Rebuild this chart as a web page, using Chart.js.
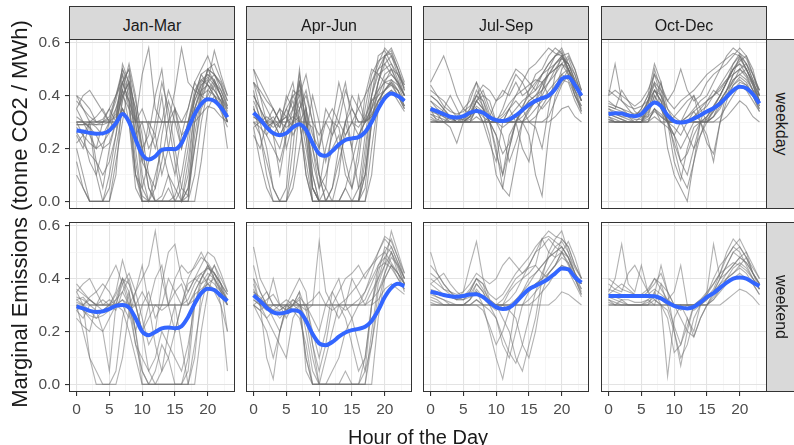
<!DOCTYPE html>
<html>
<head>
<meta charset="utf-8">
<script src="https://cdn.jsdelivr.net/npm/chart.js@4.4.1/dist/chart.umd.min.js"></script>
<style>
  html, body { margin:0; padding:0; background:#fff; }
  body { width:794px; height:445px; overflow:hidden; position:relative; font-family:"Liberation Sans", Arial, sans-serif; }
  canvas { position:absolute; }
  .strip { position:absolute; box-sizing:border-box; background:#D9D9D9; border:1px solid #333; color:#1a1a1a; font-size:16px; text-align:center; line-height:37px; }
  .rstrip { position:absolute; box-sizing:border-box; background:#D9D9D9; border:1px solid #333; }
  .rtext { position:absolute; color:#1a1a1a; font-size:16px; text-align:center; transform:rotate(90deg); white-space:nowrap; }
  .title { position:absolute; color:#1a1a1a; white-space:nowrap; text-align:center; }
</style>
</head>
<body>
<script>
// ---------- data ----------
const hours = [0,1,2,3,4,5,6,7,8,9,10,11,12,13,14,15,16,17,18,19,20,21,22,23];
const seasons = ['Jan-Mar','Apr-Jun','Jul-Sep','Oct-Dec'];
const dayTypes = ['weekday','weekend'];
const xTickValues = [0,2.5,5,7.5,10,12.5,15,17.5,20,22.5];
const xTickLabels = ['0','','5','','10','','15','','20',''];
const yTickValues = [0,0.1,0.2,0.3,0.4,0.5,0.6];
const yTickLabels = ['0.0','','0.2','','0.4','','0.6'];

// smoothed (blue) curves
const smoothWeekdayJanMar = [0.268,0.264,0.259,0.256,0.257,0.268,0.295,0.330,0.300,0.235,0.178,0.158,0.170,0.195,0.198,0.197,0.220,0.275,0.330,0.368,0.386,0.380,0.355,0.318];
const smoothWeekdayAprJun = [0.335,0.310,0.280,0.258,0.250,0.258,0.280,0.292,0.270,0.220,0.180,0.172,0.190,0.215,0.232,0.238,0.243,0.262,0.300,0.350,0.390,0.408,0.398,0.380];
const smoothWeekdayJulSep = [0.350,0.340,0.330,0.320,0.317,0.322,0.335,0.342,0.335,0.318,0.307,0.304,0.310,0.325,0.345,0.365,0.380,0.390,0.400,0.425,0.463,0.470,0.440,0.400];
const smoothWeekdayOctDec = [0.330,0.333,0.332,0.325,0.322,0.330,0.355,0.374,0.360,0.325,0.303,0.298,0.302,0.313,0.326,0.340,0.352,0.370,0.395,0.420,0.433,0.428,0.405,0.370];
const smoothWeekendJanMar = [0.295,0.287,0.278,0.274,0.276,0.285,0.297,0.300,0.290,0.250,0.200,0.186,0.198,0.212,0.215,0.212,0.220,0.255,0.305,0.345,0.362,0.357,0.335,0.315];
const smoothWeekendAprJun = [0.337,0.315,0.290,0.272,0.268,0.272,0.280,0.275,0.240,0.190,0.155,0.148,0.160,0.180,0.196,0.205,0.210,0.218,0.240,0.280,0.330,0.365,0.380,0.372];
const smoothWeekendJulSep = [0.350,0.345,0.338,0.333,0.331,0.334,0.340,0.341,0.330,0.310,0.292,0.285,0.290,0.310,0.337,0.360,0.373,0.385,0.400,0.420,0.438,0.435,0.405,0.385];
const smoothWeekendOctDec = [0.334,0.334,0.334,0.334,0.334,0.334,0.334,0.333,0.325,0.310,0.297,0.290,0.287,0.293,0.310,0.330,0.345,0.365,0.385,0.400,0.404,0.400,0.385,0.372];

// daily (grey) profiles
const dailyWeekdayJanMar = [
 [0.30,0.30,0.30,0.30,0.30,0.31,0.38,0.50,0.42,0.30,0.30,0.30,0.30,0.30,0.30,0.30,0.30,0.30,0.38,0.45,0.48,0.46,0.40,0.35],
 [0.28,0.25,0.22,0.20,0.22,0.26,0.35,0.45,0.38,0.10,0.00,0.00,0.00,0.00,0.00,0.02,0.10,0.25,0.38,0.44,0.46,0.42,0.38,0.32],
 [0.20,0.10,0.00,0.00,0.00,0.05,0.20,0.35,0.30,0.05,0.00,0.00,0.05,0.15,0.30,0.35,0.20,0.30,0.40,0.48,0.50,0.45,0.40,0.30],
 [0.40,0.38,0.35,0.30,0.30,0.30,0.32,0.42,0.52,0.40,0.20,0.05,0.00,0.00,0.05,0.00,0.00,0.10,0.35,0.42,0.50,0.48,0.45,0.38],
 [0.35,0.40,0.42,0.38,0.34,0.30,0.30,0.40,0.35,0.30,0.48,0.58,0.35,0.30,0.30,0.42,0.58,0.45,0.42,0.40,0.45,0.57,0.48,0.40],
 [0.30,0.30,0.28,0.10,0.00,0.00,0.15,0.30,0.45,0.35,0.15,0.10,0.00,0.00,0.00,0.00,0.00,0.00,0.10,0.30,0.42,0.40,0.35,0.30],
 [0.25,0.20,0.30,0.15,0.05,0.20,0.30,0.48,0.40,0.25,0.30,0.20,0.25,0.40,0.20,0.10,0.25,0.35,0.45,0.40,0.38,0.44,0.36,0.30],
 [0.30,0.30,0.30,0.30,0.30,0.30,0.30,0.35,0.30,0.30,0.30,0.30,0.30,0.30,0.30,0.30,0.30,0.30,0.30,0.33,0.36,0.35,0.32,0.30],
 [0.10,0.05,0.00,0.00,0.00,0.00,0.10,0.40,0.45,0.20,0.00,0.00,0.00,0.00,0.00,0.00,0.00,0.05,0.20,0.35,0.40,0.45,0.42,0.35],
 [0.38,0.35,0.32,0.30,0.31,0.35,0.40,0.45,0.50,0.38,0.25,0.10,0.05,0.25,0.38,0.30,0.20,0.30,0.42,0.46,0.44,0.42,0.38,0.20],
 [0.30,0.25,0.15,0.10,0.20,0.30,0.35,0.42,0.30,0.10,0.05,0.15,0.30,0.45,0.35,0.20,0.05,0.02,0.30,0.40,0.50,0.48,0.44,0.38],
 [0.29,0.29,0.29,0.29,0.30,0.32,0.40,0.50,0.45,0.35,0.20,0.05,0.00,0.00,0.00,0.00,0.00,0.00,0.00,0.15,0.35,0.40,0.38,0.30],
 [0.32,0.30,0.28,0.25,0.20,0.22,0.30,0.52,0.45,0.30,0.10,0.00,0.00,0.00,0.00,0.00,0.05,0.20,0.40,0.46,0.48,0.45,0.40,0.34],
 [0.26,0.22,0.18,0.15,0.10,0.15,0.25,0.38,0.48,0.32,0.20,0.25,0.40,0.50,0.30,0.15,0.00,0.05,0.30,0.42,0.50,0.52,0.46,0.40],
 [0.30,0.30,0.30,0.29,0.29,0.30,0.33,0.45,0.38,0.15,0.00,0.00,0.00,0.02,0.10,0.05,0.00,0.15,0.35,0.44,0.47,0.44,0.40,0.33],
 [0.15,0.05,0.00,0.00,0.00,0.10,0.25,0.45,0.50,0.30,0.05,0.00,0.10,0.20,0.10,0.00,0.00,0.00,0.25,0.40,0.42,0.46,0.40,0.30],
 [0.40,0.35,0.30,0.32,0.35,0.30,0.28,0.35,0.30,0.30,0.35,0.28,0.20,0.30,0.42,0.35,0.30,0.35,0.45,0.50,0.55,0.48,0.42,0.36],
 [0.29,0.29,0.30,0.30,0.30,0.30,0.30,0.42,0.38,0.30,0.30,0.30,0.30,0.30,0.30,0.30,0.30,0.30,0.35,0.42,0.44,0.40,0.36,0.32],
 [0.22,0.25,0.30,0.28,0.25,0.30,0.40,0.48,0.35,0.10,0.02,0.00,0.00,0.00,0.00,0.00,0.00,0.02,0.20,0.38,0.45,0.48,0.44,0.36],
 [0.35,0.30,0.25,0.20,0.30,0.35,0.30,0.40,0.45,0.25,0.15,0.30,0.25,0.10,0.20,0.35,0.25,0.28,0.40,0.48,0.44,0.40,0.34,0.28]
];
const dailyWeekdayAprJun = [
 [0.45,0.35,0.30,0.25,0.20,0.30,0.40,0.35,0.20,0.05,0.00,0.00,0.00,0.00,0.05,0.00,0.00,0.15,0.40,0.50,0.55,0.58,0.52,0.45],
 [0.35,0.30,0.28,0.25,0.30,0.38,0.45,0.30,0.10,0.00,0.00,0.00,0.00,0.00,0.00,0.00,0.00,0.05,0.30,0.42,0.48,0.50,0.45,0.40],
 [0.30,0.30,0.30,0.30,0.30,0.30,0.32,0.30,0.30,0.30,0.30,0.30,0.30,0.30,0.30,0.30,0.30,0.30,0.32,0.36,0.40,0.42,0.40,0.35],
 [0.42,0.30,0.20,0.05,0.00,0.00,0.20,0.45,0.30,0.05,0.00,0.05,0.30,0.45,0.35,0.20,0.40,0.30,0.35,0.45,0.55,0.56,0.50,0.44],
 [0.30,0.25,0.10,0.00,0.00,0.00,0.10,0.35,0.42,0.30,0.10,0.00,0.00,0.10,0.30,0.20,0.05,0.10,0.30,0.38,0.42,0.45,0.40,0.35],
 [0.50,0.40,0.35,0.30,0.25,0.30,0.35,0.40,0.48,0.35,0.20,0.30,0.25,0.35,0.45,0.30,0.25,0.30,0.45,0.52,0.58,0.55,0.50,0.42],
 [0.35,0.30,0.28,0.30,0.35,0.32,0.28,0.50,0.25,0.00,0.00,0.00,0.00,0.00,0.00,0.00,0.00,0.20,0.38,0.40,0.42,0.45,0.42,0.38],
 [0.25,0.20,0.30,0.25,0.10,0.25,0.30,0.38,0.30,0.15,0.05,0.10,0.20,0.25,0.10,0.05,0.20,0.40,0.50,0.48,0.45,0.44,0.40,0.36],
 [0.40,0.35,0.25,0.30,0.35,0.20,0.30,0.45,0.35,0.25,0.20,0.35,0.30,0.20,0.30,0.40,0.35,0.30,0.35,0.40,0.46,0.48,0.45,0.40],
 [0.32,0.30,0.30,0.28,0.30,0.35,0.30,0.32,0.10,0.00,0.00,0.00,0.05,0.20,0.30,0.35,0.30,0.30,0.33,0.38,0.40,0.42,0.38,0.34],
 [0.28,0.15,0.05,0.00,0.00,0.00,0.05,0.20,0.35,0.05,0.00,0.00,0.00,0.00,0.00,0.00,0.00,0.00,0.10,0.35,0.45,0.50,0.48,0.40],
 [0.45,0.40,0.30,0.32,0.28,0.40,0.35,0.30,0.25,0.40,0.30,0.15,0.25,0.30,0.42,0.35,0.30,0.30,0.40,0.55,0.57,0.52,0.48,0.43],
 [0.38,0.32,0.28,0.30,0.25,0.30,0.42,0.40,0.25,0.05,0.00,0.00,0.00,0.00,0.00,0.00,0.05,0.25,0.40,0.48,0.50,0.52,0.46,0.40],
 [0.30,0.28,0.25,0.20,0.15,0.25,0.35,0.45,0.30,0.20,0.10,0.05,0.00,0.00,0.00,0.00,0.00,0.10,0.35,0.45,0.55,0.57,0.50,0.42],
 [0.45,0.42,0.38,0.35,0.30,0.28,0.30,0.35,0.40,0.30,0.25,0.30,0.35,0.30,0.25,0.30,0.35,0.40,0.45,0.50,0.52,0.48,0.45,0.40],
 [0.32,0.30,0.30,0.30,0.30,0.30,0.30,0.30,0.30,0.28,0.10,0.00,0.00,0.00,0.05,0.15,0.25,0.30,0.32,0.38,0.42,0.44,0.42,0.36],
 [0.36,0.25,0.15,0.05,0.00,0.05,0.30,0.48,0.35,0.10,0.00,0.00,0.00,0.00,0.00,0.00,0.00,0.00,0.20,0.38,0.42,0.46,0.44,0.38],
 [0.40,0.35,0.30,0.35,0.30,0.32,0.25,0.30,0.35,0.20,0.05,0.20,0.30,0.28,0.15,0.05,0.15,0.35,0.48,0.53,0.55,0.50,0.44,0.40],
 [0.28,0.30,0.32,0.30,0.28,0.35,0.40,0.42,0.30,0.10,0.00,0.00,0.05,0.15,0.25,0.30,0.28,0.32,0.38,0.42,0.45,0.46,0.42,0.36],
 [0.50,0.45,0.40,0.35,0.30,0.32,0.38,0.30,0.15,0.00,0.00,0.00,0.00,0.00,0.00,0.00,0.00,0.10,0.30,0.45,0.52,0.55,0.48,0.44]
];
const dailyWeekdayJulSep = [
 [0.30,0.30,0.30,0.30,0.30,0.30,0.30,0.30,0.30,0.30,0.30,0.30,0.30,0.30,0.30,0.30,0.30,0.30,0.30,0.32,0.35,0.36,0.32,0.30],
 [0.40,0.38,0.35,0.32,0.30,0.32,0.35,0.42,0.38,0.32,0.30,0.30,0.35,0.40,0.45,0.50,0.52,0.55,0.58,0.56,0.55,0.52,0.48,0.40],
 [0.45,0.50,0.55,0.48,0.40,0.35,0.33,0.38,0.35,0.30,0.25,0.10,0.20,0.30,0.35,0.42,0.45,0.48,0.52,0.55,0.57,0.50,0.42,0.38],
 [0.32,0.30,0.30,0.30,0.30,0.31,0.40,0.45,0.35,0.30,0.20,0.05,0.02,0.15,0.30,0.35,0.38,0.40,0.45,0.48,0.52,0.55,0.50,0.42],
 [0.35,0.33,0.30,0.28,0.22,0.30,0.32,0.38,0.42,0.35,0.30,0.28,0.30,0.32,0.30,0.25,0.10,0.02,0.25,0.40,0.45,0.50,0.45,0.38],
 [0.38,0.35,0.33,0.32,0.30,0.30,0.30,0.35,0.30,0.32,0.38,0.42,0.40,0.45,0.40,0.42,0.48,0.50,0.55,0.58,0.56,0.48,0.40,0.36],
 [0.30,0.30,0.30,0.30,0.30,0.30,0.35,0.40,0.38,0.30,0.18,0.10,0.25,0.30,0.35,0.38,0.40,0.42,0.48,0.52,0.55,0.50,0.45,0.40],
 [0.42,0.40,0.38,0.35,0.32,0.35,0.38,0.45,0.40,0.33,0.30,0.30,0.32,0.35,0.38,0.40,0.42,0.45,0.48,0.50,0.54,0.52,0.46,0.42],
 [0.33,0.32,0.31,0.30,0.30,0.30,0.30,0.30,0.30,0.30,0.30,0.30,0.30,0.30,0.30,0.32,0.35,0.38,0.42,0.45,0.48,0.50,0.40,0.34],
 [0.35,0.30,0.30,0.32,0.30,0.30,0.30,0.35,0.30,0.22,0.15,0.30,0.35,0.30,0.20,0.15,0.30,0.42,0.50,0.55,0.58,0.52,0.45,0.38],
 [0.30,0.30,0.35,0.40,0.35,0.30,0.30,0.30,0.30,0.30,0.30,0.35,0.42,0.48,0.45,0.40,0.38,0.35,0.38,0.42,0.48,0.46,0.40,0.35],
 [0.36,0.34,0.32,0.30,0.30,0.30,0.32,0.38,0.40,0.38,0.30,0.25,0.15,0.22,0.30,0.34,0.38,0.45,0.40,0.42,0.50,0.54,0.48,0.40],
 [0.31,0.30,0.30,0.30,0.30,0.30,0.32,0.35,0.32,0.30,0.30,0.30,0.30,0.30,0.32,0.35,0.38,0.42,0.45,0.50,0.52,0.48,0.42,0.36],
 [0.38,0.36,0.34,0.32,0.30,0.30,0.33,0.40,0.36,0.30,0.25,0.18,0.22,0.30,0.36,0.40,0.44,0.48,0.50,0.52,0.55,0.50,0.44,0.38],
 [0.33,0.31,0.30,0.30,0.30,0.30,0.30,0.32,0.30,0.30,0.30,0.30,0.30,0.30,0.30,0.30,0.32,0.36,0.40,0.44,0.46,0.45,0.38,0.33],
 [0.44,0.40,0.36,0.34,0.33,0.34,0.36,0.40,0.44,0.42,0.38,0.40,0.45,0.50,0.48,0.45,0.42,0.48,0.52,0.55,0.56,0.50,0.44,0.40],
 [0.34,0.33,0.32,0.31,0.30,0.30,0.31,0.35,0.33,0.25,0.10,0.05,0.20,0.30,0.34,0.38,0.40,0.44,0.48,0.52,0.54,0.52,0.46,0.38],
 [0.30,0.30,0.30,0.30,0.30,0.30,0.30,0.30,0.30,0.30,0.30,0.30,0.30,0.30,0.30,0.30,0.30,0.30,0.32,0.38,0.44,0.48,0.42,0.34],
 [0.40,0.38,0.35,0.32,0.30,0.30,0.32,0.38,0.35,0.30,0.30,0.32,0.35,0.38,0.35,0.30,0.28,0.20,0.35,0.48,0.55,0.56,0.50,0.42],
 [0.35,0.34,0.33,0.32,0.31,0.31,0.33,0.36,0.34,0.32,0.31,0.33,0.37,0.40,0.42,0.44,0.46,0.45,0.48,0.50,0.52,0.50,0.45,0.40]
];
const dailyWeekdayOctDec = [
 [0.30,0.30,0.30,0.30,0.30,0.30,0.30,0.30,0.30,0.30,0.30,0.30,0.30,0.30,0.30,0.30,0.30,0.30,0.32,0.35,0.38,0.36,0.32,0.30],
 [0.40,0.52,0.38,0.35,0.32,0.35,0.40,0.52,0.45,0.35,0.30,0.30,0.32,0.35,0.38,0.40,0.45,0.50,0.55,0.58,0.56,0.52,0.48,0.42],
 [0.35,0.33,0.32,0.32,0.30,0.30,0.35,0.42,0.38,0.20,0.10,0.05,0.00,0.15,0.30,0.32,0.35,0.40,0.45,0.50,0.52,0.48,0.42,0.38],
 [0.32,0.30,0.30,0.30,0.30,0.32,0.38,0.48,0.40,0.30,0.25,0.30,0.35,0.40,0.30,0.25,0.15,0.30,0.42,0.48,0.55,0.50,0.45,0.40],
 [0.38,0.36,0.35,0.33,0.32,0.35,0.40,0.45,0.42,0.38,0.42,0.50,0.42,0.38,0.40,0.45,0.48,0.50,0.52,0.55,0.58,0.55,0.48,0.42],
 [0.30,0.30,0.30,0.30,0.30,0.30,0.32,0.40,0.35,0.30,0.15,0.08,0.20,0.28,0.30,0.30,0.32,0.38,0.42,0.45,0.50,0.52,0.46,0.38],
 [0.42,0.40,0.38,0.36,0.35,0.36,0.38,0.42,0.40,0.35,0.32,0.30,0.30,0.32,0.35,0.38,0.40,0.43,0.46,0.48,0.50,0.47,0.42,0.40],
 [0.33,0.32,0.31,0.30,0.30,0.30,0.35,0.38,0.45,0.30,0.22,0.15,0.10,0.20,0.25,0.30,0.35,0.38,0.40,0.42,0.45,0.44,0.40,0.35],
 [0.36,0.35,0.42,0.38,0.34,0.32,0.32,0.35,0.33,0.30,0.30,0.30,0.30,0.30,0.30,0.30,0.30,0.32,0.36,0.40,0.44,0.42,0.38,0.34],
 [0.30,0.30,0.30,0.30,0.30,0.30,0.30,0.35,0.30,0.30,0.30,0.30,0.25,0.20,0.30,0.38,0.42,0.40,0.45,0.52,0.55,0.50,0.44,0.36],
 [0.34,0.33,0.32,0.31,0.30,0.30,0.38,0.45,0.35,0.30,0.32,0.35,0.38,0.40,0.35,0.30,0.32,0.35,0.40,0.46,0.48,0.50,0.45,0.38],
 [0.31,0.30,0.30,0.30,0.30,0.30,0.30,0.32,0.30,0.28,0.25,0.20,0.25,0.30,0.30,0.32,0.36,0.40,0.45,0.50,0.53,0.55,0.50,0.40],
 [0.31,0.30,0.30,0.30,0.30,0.30,0.33,0.40,0.36,0.30,0.30,0.30,0.30,0.30,0.30,0.30,0.32,0.36,0.40,0.44,0.46,0.44,0.40,0.34],
 [0.36,0.35,0.34,0.33,0.32,0.33,0.38,0.44,0.40,0.32,0.20,0.10,0.05,0.15,0.25,0.32,0.36,0.40,0.45,0.50,0.54,0.50,0.45,0.40],
 [0.33,0.32,0.31,0.30,0.30,0.30,0.34,0.42,0.38,0.30,0.30,0.30,0.30,0.30,0.30,0.31,0.34,0.38,0.42,0.46,0.48,0.46,0.42,0.36],
 [0.40,0.42,0.40,0.38,0.36,0.38,0.42,0.48,0.44,0.38,0.35,0.38,0.40,0.42,0.45,0.48,0.50,0.52,0.54,0.56,0.55,0.52,0.46,0.42],
 [0.30,0.30,0.30,0.30,0.30,0.30,0.30,0.35,0.32,0.30,0.25,0.15,0.18,0.25,0.30,0.30,0.34,0.38,0.42,0.48,0.50,0.48,0.44,0.38],
 [0.35,0.34,0.33,0.32,0.31,0.31,0.36,0.50,0.42,0.32,0.30,0.30,0.30,0.32,0.34,0.36,0.40,0.44,0.48,0.52,0.56,0.54,0.48,0.40],
 [0.32,0.31,0.30,0.30,0.30,0.30,0.31,0.34,0.32,0.30,0.30,0.30,0.32,0.34,0.30,0.22,0.18,0.30,0.38,0.44,0.47,0.45,0.40,0.35],
 [0.37,0.36,0.35,0.34,0.33,0.34,0.37,0.42,0.38,0.30,0.28,0.25,0.30,0.34,0.36,0.38,0.40,0.42,0.46,0.50,0.52,0.50,0.44,0.38]
];
const dailyWeekendJanMar = [
 [0.30,0.30,0.30,0.30,0.30,0.30,0.30,0.30,0.30,0.30,0.30,0.30,0.30,0.30,0.30,0.30,0.30,0.30,0.32,0.35,0.38,0.36,0.33,0.30],
 [0.35,0.30,0.10,0.00,0.00,0.00,0.05,0.25,0.35,0.20,0.00,0.00,0.00,0.00,0.00,0.00,0.00,0.10,0.35,0.40,0.45,0.42,0.38,0.32],
 [0.38,0.35,0.32,0.30,0.35,0.40,0.45,0.38,0.30,0.35,0.40,0.45,0.58,0.40,0.30,0.35,0.38,0.30,0.35,0.40,0.45,0.40,0.35,0.30],
 [0.28,0.25,0.30,0.28,0.20,0.05,0.30,0.40,0.32,0.15,0.05,0.00,0.00,0.05,0.20,0.30,0.15,0.00,0.00,0.20,0.35,0.42,0.38,0.30],
 [0.32,0.30,0.33,0.35,0.38,0.35,0.30,0.38,0.42,0.35,0.25,0.15,0.20,0.38,0.50,0.53,0.40,0.35,0.40,0.45,0.50,0.48,0.42,0.35],
 [0.30,0.28,0.25,0.22,0.20,0.25,0.30,0.32,0.28,0.15,0.10,0.05,0.10,0.20,0.15,0.10,0.05,0.15,0.30,0.38,0.42,0.40,0.30,0.05],
 [0.25,0.22,0.20,0.30,0.32,0.30,0.28,0.35,0.40,0.30,0.20,0.30,0.40,0.45,0.30,0.20,0.30,0.38,0.40,0.42,0.38,0.35,0.30,0.20],
 [0.32,0.33,0.30,0.30,0.30,0.30,0.30,0.32,0.30,0.30,0.35,0.30,0.30,0.30,0.30,0.30,0.30,0.30,0.34,0.36,0.38,0.40,0.36,0.32],
 [0.30,0.20,0.10,0.05,0.00,0.00,0.00,0.10,0.28,0.30,0.20,0.05,0.00,0.00,0.00,0.00,0.00,0.00,0.15,0.30,0.40,0.45,0.40,0.35],
 [0.35,0.38,0.40,0.35,0.30,0.30,0.32,0.40,0.35,0.20,0.30,0.35,0.25,0.30,0.40,0.35,0.30,0.40,0.45,0.50,0.45,0.40,0.35,0.32],
 [0.30,0.28,0.26,0.25,0.26,0.28,0.32,0.35,0.30,0.20,0.05,0.00,0.00,0.00,0.00,0.00,0.00,0.05,0.30,0.40,0.44,0.42,0.36,0.32],
 [0.33,0.32,0.30,0.30,0.28,0.30,0.34,0.40,0.38,0.30,0.20,0.25,0.30,0.28,0.30,0.40,0.45,0.42,0.44,0.48,0.46,0.42,0.38,0.34],
 [0.28,0.30,0.32,0.30,0.30,0.32,0.30,0.28,0.20,0.10,0.00,0.00,0.05,0.15,0.10,0.00,0.00,0.00,0.10,0.35,0.40,0.38,0.35,0.30],
 [0.36,0.34,0.32,0.30,0.30,0.30,0.35,0.47,0.38,0.30,0.30,0.30,0.30,0.30,0.30,0.30,0.30,0.32,0.38,0.42,0.44,0.42,0.38,0.34],
 [0.31,0.30,0.28,0.25,0.28,0.30,0.30,0.30,0.25,0.35,0.45,0.30,0.15,0.05,0.10,0.20,0.30,0.35,0.40,0.38,0.40,0.45,0.38,0.20]
];
const dailyWeekendAprJun = [
 [0.52,0.40,0.35,0.30,0.30,0.30,0.30,0.30,0.30,0.30,0.30,0.30,0.30,0.30,0.30,0.30,0.30,0.30,0.32,0.35,0.40,0.45,0.42,0.38],
 [0.38,0.30,0.10,0.02,0.20,0.30,0.32,0.30,0.10,0.00,0.00,0.00,0.00,0.00,0.00,0.00,0.00,0.05,0.30,0.45,0.50,0.55,0.48,0.40],
 [0.30,0.28,0.30,0.40,0.30,0.25,0.30,0.35,0.28,0.30,0.54,0.35,0.30,0.25,0.30,0.40,0.35,0.30,0.35,0.40,0.45,0.50,0.45,0.38],
 [0.35,0.32,0.30,0.28,0.25,0.28,0.30,0.32,0.20,0.05,0.00,0.00,0.05,0.10,0.20,0.25,0.15,0.05,0.15,0.35,0.42,0.48,0.45,0.40],
 [0.40,0.30,0.25,0.20,0.15,0.10,0.25,0.30,0.28,0.15,0.00,0.00,0.00,0.00,0.05,0.00,0.00,0.00,0.20,0.38,0.45,0.58,0.50,0.42],
 [0.32,0.30,0.28,0.30,0.30,0.30,0.30,0.33,0.30,0.25,0.20,0.30,0.35,0.30,0.28,0.30,0.32,0.35,0.40,0.45,0.48,0.45,0.40,0.36],
 [0.30,0.25,0.20,0.10,0.20,0.28,0.30,0.35,0.05,0.00,0.00,0.10,0.20,0.30,0.25,0.15,0.05,0.10,0.30,0.42,0.52,0.50,0.42,0.35],
 [0.35,0.33,0.30,0.30,0.30,0.30,0.28,0.30,0.30,0.30,0.30,0.30,0.30,0.30,0.30,0.30,0.30,0.30,0.30,0.32,0.36,0.38,0.36,0.34],
 [0.45,0.35,0.30,0.25,0.20,0.30,0.28,0.25,0.15,0.00,0.00,0.00,0.00,0.00,0.00,0.00,0.00,0.00,0.00,0.25,0.40,0.45,0.42,0.38],
 [0.30,0.32,0.35,0.30,0.28,0.30,0.35,0.40,0.35,0.15,0.05,0.15,0.30,0.35,0.40,0.42,0.45,0.40,0.45,0.50,0.55,0.52,0.46,0.40],
 [0.34,0.32,0.30,0.28,0.28,0.30,0.30,0.30,0.25,0.10,0.00,0.00,0.00,0.00,0.00,0.00,0.00,0.10,0.30,0.40,0.48,0.52,0.46,0.40],
 [0.36,0.30,0.32,0.34,0.30,0.28,0.32,0.30,0.30,0.32,0.35,0.30,0.28,0.30,0.32,0.35,0.38,0.42,0.45,0.48,0.50,0.46,0.42,0.38],
 [0.30,0.28,0.25,0.28,0.30,0.32,0.30,0.28,0.10,0.00,0.00,0.00,0.00,0.00,0.00,0.00,0.00,0.00,0.15,0.30,0.42,0.50,0.44,0.38],
 [0.40,0.35,0.30,0.30,0.30,0.28,0.30,0.30,0.30,0.20,0.10,0.20,0.35,0.40,0.30,0.25,0.30,0.35,0.42,0.50,0.56,0.54,0.48,0.42],
 [0.32,0.30,0.30,0.30,0.30,0.30,0.30,0.30,0.30,0.30,0.30,0.30,0.30,0.30,0.30,0.30,0.30,0.32,0.38,0.44,0.46,0.44,0.40,0.36]
];
const dailyWeekendJulSep = [
 [0.30,0.30,0.30,0.30,0.30,0.30,0.30,0.30,0.30,0.30,0.30,0.30,0.30,0.30,0.30,0.30,0.30,0.30,0.30,0.32,0.35,0.34,0.32,0.30],
 [0.50,0.42,0.38,0.35,0.32,0.35,0.45,0.54,0.40,0.32,0.30,0.30,0.32,0.35,0.40,0.45,0.50,0.55,0.58,0.56,0.55,0.52,0.45,0.40],
 [0.35,0.33,0.32,0.30,0.30,0.30,0.32,0.35,0.30,0.20,0.10,0.02,0.15,0.30,0.35,0.40,0.42,0.45,0.48,0.50,0.52,0.48,0.42,0.38],
 [0.38,0.40,0.42,0.38,0.35,0.33,0.35,0.40,0.36,0.32,0.30,0.25,0.20,0.10,0.05,0.15,0.25,0.40,0.50,0.55,0.58,0.50,0.42,0.36],
 [0.32,0.31,0.30,0.30,0.30,0.30,0.30,0.32,0.30,0.28,0.25,0.15,0.10,0.20,0.30,0.35,0.38,0.40,0.42,0.45,0.48,0.46,0.40,0.35],
 [0.40,0.38,0.36,0.35,0.34,0.35,0.38,0.42,0.40,0.38,0.40,0.45,0.48,0.45,0.42,0.45,0.50,0.52,0.55,0.52,0.50,0.45,0.40,0.38],
 [0.30,0.30,0.30,0.30,0.30,0.30,0.32,0.38,0.35,0.30,0.30,0.30,0.28,0.25,0.15,0.10,0.20,0.35,0.42,0.45,0.50,0.48,0.40,0.34],
 [0.36,0.35,0.34,0.33,0.32,0.32,0.33,0.35,0.33,0.30,0.30,0.32,0.36,0.40,0.42,0.44,0.45,0.42,0.40,0.42,0.45,0.44,0.40,0.36],
 [0.33,0.32,0.30,0.30,0.30,0.30,0.30,0.30,0.30,0.30,0.30,0.30,0.30,0.30,0.30,0.32,0.35,0.38,0.42,0.45,0.50,0.54,0.48,0.40],
 [0.45,0.42,0.38,0.35,0.33,0.32,0.35,0.40,0.38,0.30,0.28,0.30,0.35,0.38,0.40,0.42,0.45,0.55,0.50,0.48,0.55,0.52,0.45,0.40],
 [0.34,0.33,0.32,0.31,0.30,0.30,0.32,0.36,0.33,0.30,0.30,0.30,0.30,0.32,0.35,0.38,0.42,0.45,0.48,0.50,0.52,0.48,0.42,0.38],
 [0.31,0.30,0.30,0.30,0.30,0.30,0.30,0.30,0.28,0.22,0.15,0.20,0.28,0.32,0.34,0.36,0.38,0.40,0.44,0.48,0.50,0.46,0.40,0.34],
 [0.38,0.36,0.34,0.33,0.32,0.33,0.36,0.40,0.38,0.34,0.32,0.34,0.38,0.42,0.45,0.48,0.52,0.55,0.56,0.54,0.52,0.48,0.42,0.38],
 [0.30,0.30,0.30,0.30,0.30,0.30,0.30,0.32,0.30,0.30,0.30,0.30,0.30,0.30,0.30,0.30,0.32,0.35,0.38,0.42,0.45,0.43,0.38,0.33],
 [0.42,0.40,0.36,0.34,0.32,0.32,0.34,0.38,0.35,0.30,0.25,0.18,0.12,0.08,0.15,0.25,0.35,0.42,0.48,0.52,0.54,0.50,0.44,0.40]
];
const dailyWeekendOctDec = [
 [0.30,0.30,0.30,0.30,0.30,0.30,0.30,0.30,0.30,0.30,0.30,0.30,0.30,0.30,0.30,0.30,0.30,0.30,0.32,0.34,0.36,0.35,0.33,0.30],
 [0.35,0.40,0.53,0.38,0.35,0.45,0.35,0.32,0.30,0.30,0.30,0.28,0.30,0.30,0.30,0.32,0.35,0.40,0.45,0.50,0.48,0.46,0.42,0.38],
 [0.32,0.30,0.30,0.30,0.30,0.30,0.30,0.35,0.30,0.03,0.25,0.30,0.25,0.20,0.30,0.35,0.38,0.42,0.48,0.52,0.50,0.45,0.40,0.36],
 [0.38,0.36,0.35,0.42,0.45,0.40,0.35,0.38,0.42,0.35,0.20,0.07,0.20,0.30,0.32,0.35,0.53,0.40,0.42,0.45,0.48,0.50,0.45,0.40],
 [0.30,0.30,0.32,0.30,0.30,0.30,0.32,0.30,0.38,0.30,0.22,0.15,0.25,0.18,0.25,0.30,0.35,0.38,0.40,0.42,0.45,0.48,0.42,0.38],
 [0.34,0.33,0.32,0.32,0.31,0.31,0.32,0.34,0.45,0.35,0.30,0.30,0.30,0.30,0.30,0.30,0.32,0.35,0.38,0.40,0.42,0.40,0.38,0.34],
 [0.40,0.38,0.36,0.35,0.34,0.33,0.35,0.40,0.36,0.32,0.35,0.45,0.30,0.28,0.30,0.33,0.36,0.42,0.50,0.55,0.52,0.48,0.44,0.40],
 [0.31,0.30,0.30,0.30,0.30,0.30,0.30,0.30,0.30,0.28,0.20,0.10,0.15,0.25,0.30,0.30,0.33,0.36,0.40,0.44,0.46,0.44,0.40,0.36],
 [0.33,0.32,0.31,0.30,0.30,0.30,0.31,0.33,0.32,0.30,0.30,0.30,0.30,0.30,0.30,0.34,0.40,0.45,0.48,0.52,0.55,0.50,0.42,0.38],
 [0.32,0.31,0.30,0.30,0.30,0.30,0.30,0.32,0.30,0.30,0.30,0.30,0.30,0.30,0.30,0.30,0.32,0.36,0.40,0.42,0.44,0.42,0.38,0.34],
 [0.36,0.35,0.34,0.33,0.33,0.34,0.36,0.40,0.38,0.35,0.30,0.25,0.20,0.18,0.25,0.30,0.34,0.38,0.42,0.45,0.48,0.46,0.42,0.38],
 [0.30,0.30,0.30,0.30,0.30,0.30,0.30,0.30,0.30,0.25,0.12,0.15,0.22,0.30,0.30,0.32,0.35,0.40,0.45,0.50,0.52,0.48,0.42,0.36],
 [0.34,0.36,0.38,0.36,0.34,0.33,0.34,0.36,0.34,0.32,0.30,0.30,0.30,0.30,0.32,0.34,0.38,0.42,0.44,0.46,0.45,0.43,0.40,0.36]
];

const smoothGrid = [
  [smoothWeekdayJanMar, smoothWeekdayAprJun, smoothWeekdayJulSep, smoothWeekdayOctDec],
  [smoothWeekendJanMar, smoothWeekendAprJun, smoothWeekendJulSep, smoothWeekendOctDec]
];
const dailyGrid = [
  [dailyWeekdayJanMar, dailyWeekdayAprJun, dailyWeekdayJulSep, dailyWeekdayOctDec],
  [dailyWeekendJanMar, dailyWeekendAprJun, dailyWeekendJulSep, dailyWeekendOctDec]
];

// ---------- layout ----------
const colLeft = [69, 246, 423, 601];
const rowTop = [39, 222];
const panelW = 166, panelH = 170;
const padL = 70, padT = 24, padR = 24, padB = 35;
const FONT = '"Liberation Sans", Arial, sans-serif';

const panelBorder = {
  id: 'panelBorder',
  afterDraw(chart) {
    const a = chart.chartArea, ctx = chart.ctx;
    ctx.save();
    ctx.strokeStyle = '#333333';
    ctx.lineWidth = 1;
    ctx.strokeRect(a.left + 0.5, a.top + 0.5, a.right - a.left - 1, a.bottom - a.top - 1);
    ctx.restore();
  }
};

function addDiv(cls, css, text) {
  const d = document.createElement('div');
  d.className = cls;
  Object.assign(d.style, css);
  if (text !== undefined) d.textContent = text;
  document.body.appendChild(d);
  return d;
}

function makePanel(r, c) {
  const cv = document.createElement('canvas');
  cv.width = panelW + padL + padR;
  cv.height = panelH + padT + padB;
  cv.style.left = (colLeft[c] - padL) + 'px';
  cv.style.top = (rowTop[r] - padT) + 'px';
  document.body.appendChild(cv);

  const showX = r === 1;
  const showY = c === 0;
  const toXY = vals => vals.map((v, i) => ({ x: hours[i], y: v }));

  const datasets = [{
    data: toXY(smoothGrid[r][c]),
    borderColor: '#3366FF',
    borderWidth: 4,
    cubicInterpolationMode: 'monotone',
    order: 0
  }];
  const greyCol = r === 0 ? 'rgba(108,108,108,0.62)' : 'rgba(115,115,115,0.55)';
  dailyGrid[r][c].forEach(vals => datasets.push({
    data: toXY(vals),
    borderColor: greyCol,
    borderWidth: 1.1,
    tension: 0,
    order: 1
  }));

  const xMajor = v => xTickLabels[xTickValues.indexOf(v)] !== '';
  const yMajor = v => yTickLabels[yTickValues.indexOf(v)] !== '';

  new Chart(cv, {
    type: 'line',
    data: { datasets },
    options: {
      responsive: false,
      animation: false,
      devicePixelRatio: 1,
      events: [],
      layout: { padding: { top: padT, right: padR, left: 0, bottom: 0 } },
      plugins: { legend: { display: false }, tooltip: { enabled: false } },
      elements: { point: { radius: 0 } },
      scales: {
        x: {
          type: 'linear', min: -1.15, max: 24.15,
          afterBuildTicks: s => { s.ticks = xTickValues.map(v => ({ value: v })); },
          afterFit: s => { s.height = padB; },
          border: { display: false },
          grid: {
            color: ctx => xMajor(ctx.tick.value) ? '#E3E3E3' : '#F0F0F0',
            lineWidth: ctx => xMajor(ctx.tick.value) ? 1.1 : 0.6,
            drawTicks: showX, tickLength: 4,
            tickColor: ctx => xMajor(ctx.tick.value) ? '#333333' : 'rgba(0,0,0,0)',
            tickWidth: 1.1
          },
          ticks: {
            display: showX, autoSkip: false, maxRotation: 0, padding: 4,
            color: '#4D4D4D', font: { family: FONT, size: 15.5 },
            callback: v => xTickLabels[xTickValues.indexOf(v)]
          }
        },
        y: {
          type: 'linear', min: -0.029, max: 0.614,
          afterBuildTicks: s => { s.ticks = yTickValues.map(v => ({ value: v })); },
          afterFit: s => { s.width = padL; },
          border: { display: false },
          grid: {
            color: ctx => yMajor(ctx.tick.value) ? '#E3E3E3' : '#F0F0F0',
            lineWidth: ctx => yMajor(ctx.tick.value) ? 1.1 : 0.6,
            drawTicks: showY, tickLength: 4,
            tickColor: ctx => yMajor(ctx.tick.value) ? '#333333' : 'rgba(0,0,0,0)',
            tickWidth: 1.1
          },
          ticks: {
            display: showY, autoSkip: false, padding: 5,
            color: '#4D4D4D', font: { family: FONT, size: 15.5 },
            callback: v => yTickLabels[yTickValues.indexOf(v)]
          }
        }
      }
    },
    plugins: [panelBorder]
  });
}

for (let r = 0; r < 2; r++) for (let c = 0; c < 4; c++) makePanel(r, c);

// facet strips
seasons.forEach((s, c) => addDiv('strip', {
  left: colLeft[c] + 'px', top: '6px', width: panelW + 'px', height: (rowTop[0] - 6 + 1) + 'px'
}, s));
dayTypes.forEach((d, r) => {
  addDiv('rstrip', { left: (colLeft[3] + panelW - 1) + 'px', top: rowTop[r] + 'px', width: '40px', height: panelH + 'px' });
  addDiv('rtext', {
    left: (781 - panelH / 2) + 'px', top: (rowTop[r] + panelH / 2 - 10) + 'px',
    width: panelH + 'px', height: '20px', lineHeight: '20px'
  }, d);
});

// axis titles
addDiv('title', { left: (20 - 220) + 'px', top: (214 - 14) + 'px', width: '440px', height: '28px', lineHeight: '28px', fontSize: '22px', transform: 'rotate(-90deg)' }, 'Marginal Emissions (tonne CO2 / MWh)');
addDiv('title', { left: (418 - 120) + 'px', top: '424px', width: '240px', height: '26px', lineHeight: '26px', fontSize: '20px' }, 'Hour of the Day');
</script>
</body>
</html>
